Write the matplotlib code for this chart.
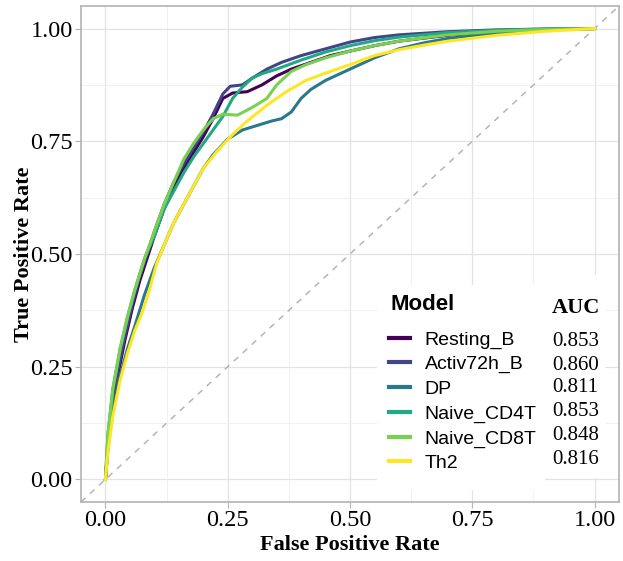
import matplotlib
matplotlib.use("Agg")
import matplotlib.pyplot as plt
from matplotlib.lines import Line2D
from matplotlib.ticker import MultipleLocator

models = ["Resting_B", "Activ72h_B", "DP", "Naive_CD4T", "Naive_CD8T", "Th2"]
auc_values = ["0.853", "0.860", "0.811", "0.853", "0.848", "0.816"]
colors = ["#440154", "#414487", "#2A788E", "#22A884", "#7AD151", "#FDE725"]
tick_labels = ["0.00", "0.25", "0.50", "0.75", "1.00"]

resting_fpr = [0, 0.005, 0.015, 0.025, 0.04, 0.055, 0.07, 0.085, 0.1, 0.12, 0.14, 0.16, 0.18, 0.2, 0.22, 0.24, 0.26, 0.29, 0.32, 0.35, 0.38, 0.42, 0.46, 0.5, 0.55, 0.6, 0.7, 0.8, 0.9, 1.0]
resting_tpr = [0, 0.07, 0.16, 0.23, 0.31, 0.38, 0.44, 0.49, 0.54, 0.60, 0.65, 0.69, 0.725, 0.76, 0.80, 0.845, 0.857, 0.86, 0.875, 0.895, 0.91, 0.925, 0.94, 0.95, 0.962, 0.972, 0.985, 0.993, 0.998, 1.0]

activ_fpr = [0, 0.005, 0.015, 0.025, 0.04, 0.055, 0.07, 0.085, 0.1, 0.12, 0.14, 0.16, 0.18, 0.2, 0.22, 0.24, 0.255, 0.28, 0.3, 0.33, 0.36, 0.4, 0.45, 0.5, 0.55, 0.6, 0.7, 0.8, 0.9, 1.0]
activ_tpr = [0, 0.08, 0.17, 0.24, 0.32, 0.39, 0.45, 0.50, 0.55, 0.61, 0.66, 0.70, 0.735, 0.77, 0.81, 0.855, 0.872, 0.875, 0.89, 0.91, 0.925, 0.94, 0.955, 0.97, 0.98, 0.986, 0.993, 0.997, 0.999, 1.0]

dp_fpr = [0, 0.005, 0.015, 0.03, 0.045, 0.06, 0.08, 0.1, 0.12, 0.14, 0.16, 0.18, 0.2, 0.22, 0.25, 0.28, 0.31, 0.34, 0.36, 0.38, 0.4, 0.42, 0.45, 0.5, 0.55, 0.6, 0.65, 0.7, 0.8, 0.9, 1.0]
dp_tpr = [0, 0.07, 0.15, 0.23, 0.29, 0.34, 0.41, 0.47, 0.52, 0.57, 0.61, 0.65, 0.69, 0.72, 0.755, 0.775, 0.785, 0.795, 0.80, 0.815, 0.845, 0.865, 0.885, 0.91, 0.935, 0.955, 0.968, 0.978, 0.99, 0.997, 1.0]

cd4_fpr = [0, 0.005, 0.015, 0.03, 0.045, 0.06, 0.08, 0.1, 0.12, 0.14, 0.16, 0.18, 0.2, 0.22, 0.24, 0.26, 0.28, 0.3, 0.32, 0.35, 0.4, 0.45, 0.5, 0.55, 0.6, 0.7, 0.8, 0.9, 1.0]
cd4_tpr = [0, 0.10, 0.20, 0.29, 0.36, 0.42, 0.49, 0.54, 0.60, 0.64, 0.68, 0.715, 0.745, 0.775, 0.805, 0.845, 0.87, 0.89, 0.90, 0.91, 0.93, 0.948, 0.962, 0.973, 0.981, 0.991, 0.996, 0.999, 1.0]

cd8_fpr = [0, 0.005, 0.015, 0.03, 0.045, 0.06, 0.08, 0.1, 0.12, 0.14, 0.16, 0.18, 0.2, 0.22, 0.24, 0.27, 0.3, 0.33, 0.35, 0.38, 0.41, 0.45, 0.5, 0.55, 0.6, 0.7, 0.8, 0.9, 1.0]
cd8_tpr = [0, 0.10, 0.20, 0.29, 0.36, 0.42, 0.49, 0.55, 0.61, 0.66, 0.71, 0.745, 0.775, 0.80, 0.81, 0.808, 0.825, 0.845, 0.875, 0.905, 0.92, 0.935, 0.95, 0.962, 0.972, 0.986, 0.994, 0.998, 1.0]

th2_fpr = [0, 0.005, 0.015, 0.03, 0.045, 0.06, 0.075, 0.09, 0.105, 0.12, 0.14, 0.16, 0.18, 0.2, 0.23, 0.26, 0.29, 0.33, 0.37, 0.41, 0.46, 0.5, 0.55, 0.6, 0.65, 0.7, 0.8, 0.9, 1.0]
th2_tpr = [0, 0.06, 0.14, 0.22, 0.28, 0.33, 0.37, 0.42, 0.48, 0.52, 0.57, 0.61, 0.65, 0.69, 0.73, 0.765, 0.795, 0.83, 0.86, 0.885, 0.905, 0.92, 0.94, 0.953, 0.963, 0.972, 0.985, 0.994, 1.0]

curves = [(resting_fpr, resting_tpr), (activ_fpr, activ_tpr), (dp_fpr, dp_tpr),
          (cd4_fpr, cd4_tpr), (cd8_fpr, cd8_tpr), (th2_fpr, th2_tpr)]

W, H = 623, 561
fig = plt.figure(figsize=(W / 100, H / 100), dpi=100)
ax = fig.add_axes([81 / W, 1 - 502 / H, (619 - 81) / W, (502 - 6) / H])

serif = "Liberation Serif"
sans = "Liberation Sans"

ax.set_xlim(-0.05, 1.05)
ax.set_ylim(-0.05, 1.05)
ax.plot([-0.05, 1.05], [-0.05, 1.05], ls=(0, (4, 4)), color="#b5b5b5", lw=1.1, zorder=1)

for (fx, ty), c in zip(curves, colors):
    ax.plot(fx, ty, color=c, lw=2.2, zorder=2, solid_joinstyle="round")

ticks = [0, 0.25, 0.5, 0.75, 1.0]
ax.set_xticks(ticks)
ax.set_xticklabels(tick_labels, fontfamily=serif, fontsize=17.5)
ax.set_yticks(ticks)
ax.set_yticklabels(tick_labels, fontfamily=serif, fontsize=17.5)
ax.xaxis.set_minor_locator(MultipleLocator(0.125))
ax.yaxis.set_minor_locator(MultipleLocator(0.125))
ax.tick_params(which="major", length=4, width=0.8, color="#b3b3b3", pad=2)
ax.tick_params(which="minor", length=0)
ax.grid(which="major", color="#e3e3e3", lw=0.9)
ax.grid(which="minor", color="#efefef", lw=0.6)
ax.set_axisbelow(True)
for s in ax.spines.values():
    s.set_color("#b3b3b3")
    s.set_linewidth(1.2)

ax.set_xlabel("False Positive Rate", fontfamily=serif, fontweight="bold", fontsize=16, labelpad=3)
ax.set_ylabel("True Positive Rate", fontfamily=serif, fontweight="bold", fontsize=16, labelpad=-3)

# legend backgrounds
ax.add_patch(plt.Rectangle((377 / W, 1 - 490 / H), (545 - 377) / W, (490 - 285) / H,
                           transform=fig.transFigure, facecolor="white", edgecolor="none",
                           zorder=4))
ax.add_patch(plt.Rectangle((545 / W, 1 - 478 / H), (605 - 545) / W, (478 - 275) / H,
                           transform=fig.transFigure, facecolor="white", edgecolor="none",
                           zorder=4))

handles = [Line2D([], [], color=c, lw=3) for c in colors]
leg = ax.legend(handles, models, loc="upper left",
                bbox_to_anchor=(383 / W, 1 - 325 / H), bbox_transform=fig.transFigure,
                prop={"family": sans, "size": 14},
                frameon=False, handlelength=1.1, handletextpad=0.75, labelspacing=0.36,
                borderpad=0.3, borderaxespad=0)
leg.set_zorder(5)
fig.text(390 / W, 1 - 305 / H, "Model", fontfamily=sans, fontweight="bold", fontsize=16,
         va="center", ha="left", zorder=6)

fig.text(552 / W, 1 - 308 / H, "AUC", fontfamily=serif, fontweight="bold", fontsize=16,
         va="center", ha="left", zorder=6)
row_y = [342, 365, 388, 412, 436, 460]
for v, yy in zip(auc_values, row_y):
    fig.text(552 / W, 1 - yy / H, v, fontfamily=serif, fontsize=15, va="center", ha="left", zorder=6)

fig.savefig("out.png", dpi=100)
